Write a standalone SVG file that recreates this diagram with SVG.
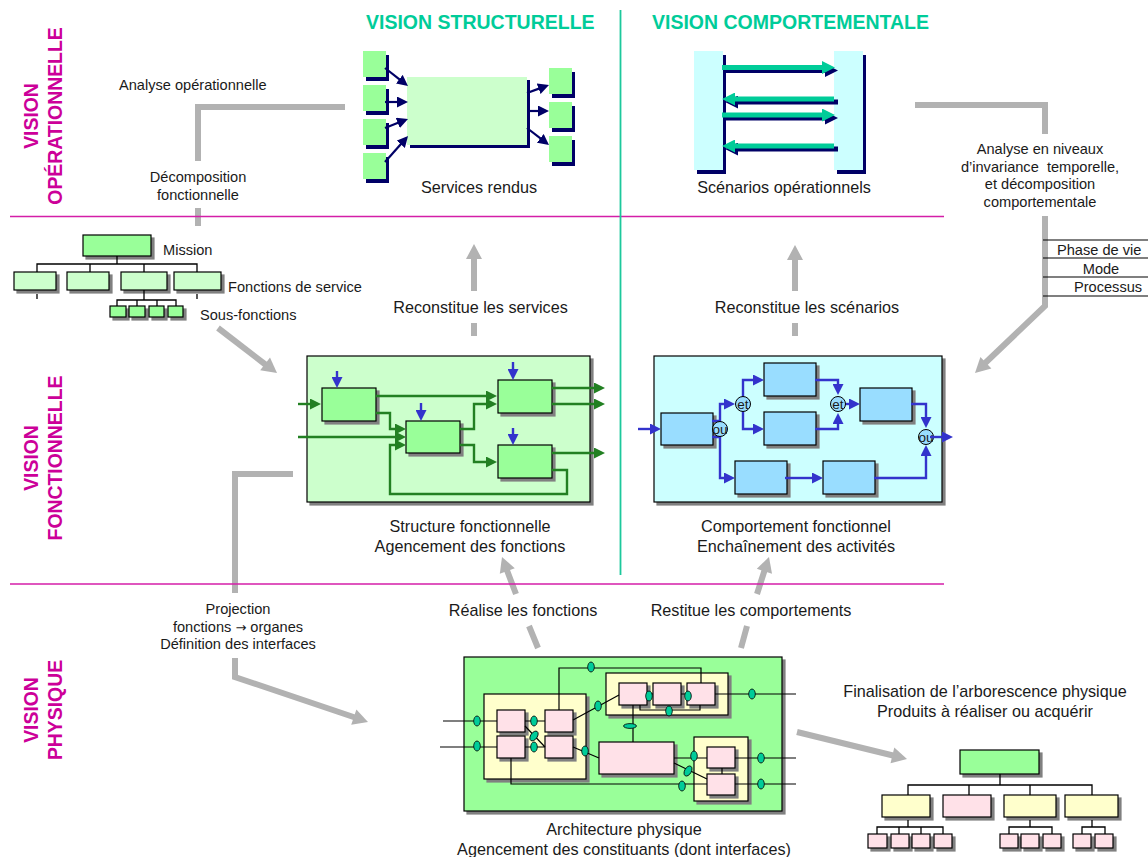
<svg xmlns="http://www.w3.org/2000/svg" width="1148" height="857" viewBox="0 0 1148 857">
<style>
text{font-family:"Liberation Sans",Arial,sans-serif;fill:#1a1a1a;font-size:14.6px}
.c{text-anchor:middle}
.lg{font-size:16.2px}
.ti{font-size:19.5px;font-weight:bold;fill:#00cc99}
.vi{font-size:19.4px;font-weight:bold;fill:#cc0099;text-anchor:middle}
.op{font-size:13.5px;text-anchor:middle}
rect.b{stroke:#000;stroke-width:1.2;filter:drop-shadow(3px 3px 0 #808080)}
rect.n{filter:drop-shadow(3px 4px 0 #000066)}
.g1{fill:#99ff99}.g2{fill:#ccffcc}.pk{fill:#ffe1e8}.yl{fill:#ffffcc}.bl{fill:#99ddff}.cy{fill:#ccffff}
.gr,.k,.tr,.gn,.bu,.nv,.te,.ts{fill:none}
.gr{stroke:#b2b2b2;stroke-width:6;stroke-linejoin:miter}
.gh{fill:#b2b2b2;stroke:none}
.sep{stroke:#d41ea8;stroke-width:1.6}
.sepv{stroke:#1cc89c;stroke-width:1.8}
.k{stroke:#000;stroke-width:1.2}
.tr{stroke:#000;stroke-width:1.3}
.nv{stroke:#000066;stroke-width:2.2;marker-end:url(#mn)}
.te{stroke:#00cc99;stroke-width:5;marker-end:url(#mt)}
.ts{stroke:#000066;stroke-width:5;marker-end:url(#ms)}
.gn{stroke:#228022;stroke-width:2.4}
.ga{marker-end:url(#mg)}
.bu{stroke:#3333cc;stroke-width:2.4}
.ba{marker-end:url(#mb)}
.if{fill:#00cc99;stroke:#000;stroke-width:.8}
.cr{fill:#99ddff;stroke:#000;stroke-width:1}
</style>
<defs>
<marker id="mg" markerUnits="userSpaceOnUse" markerWidth="11" markerHeight="11" viewBox="0 0 11 11" refX="1" refY="5.5" orient="auto"><path d="M0 0L11 5.5L0 11Z" fill="#228022"/></marker>
<marker id="mb" markerUnits="userSpaceOnUse" markerWidth="11" markerHeight="11" viewBox="0 0 11 11" refX="1" refY="5.5" orient="auto"><path d="M0 0L11 5.5L0 11Z" fill="#3333cc"/></marker>
<marker id="mn" markerUnits="userSpaceOnUse" markerWidth="11" markerHeight="11" viewBox="0 0 11 11" refX="1" refY="5.5" orient="auto"><path d="M0 0L11 5.5L0 11Z" fill="#000066"/></marker>
<marker id="mt" markerUnits="userSpaceOnUse" markerWidth="13" markerHeight="13" viewBox="0 0 13 13" refX="1" refY="6.5" orient="auto"><path d="M0 0L13 6.5L0 13Z" fill="#00cc99"/></marker>
<marker id="ms" markerUnits="userSpaceOnUse" markerWidth="13" markerHeight="13" viewBox="0 0 13 13" refX="1" refY="6.5" orient="auto"><path d="M0 0L13 6.5L0 13Z" fill="#000066"/></marker>
</defs>

<g id="titles">
<text class="ti" x="366" y="29">VISION STRUCTURELLE</text>
<text class="ti" x="652" y="29">VISION COMPORTEMENTALE</text>
<text class="vi" transform="translate(38,116) rotate(-90)">VISION</text>
<text class="vi" transform="translate(62,116) rotate(-90)">OPÉRATIONNELLE</text>
<text class="vi" transform="translate(38,458) rotate(-90)">VISION</text>
<text class="vi" transform="translate(62,458) rotate(-90)">FONCTIONNELLE</text>
<text class="vi" transform="translate(38,710) rotate(-90)">VISION</text>
<text class="vi" transform="translate(62,710) rotate(-90)">PHYSIQUE</text>
</g>

<!-- services rendus -->
<g id="service-in-1"><rect class="n g1" x="363" y="51" width="23" height="26"/></g>
<g id="service-in-2"><rect class="n g1" x="363" y="85" width="23" height="26"/></g>
<g id="service-in-3"><rect class="n g1" x="363" y="119" width="23" height="26"/></g>
<g id="service-in-4"><rect class="n g1" x="363" y="153" width="23" height="26"/></g>
<g id="service-system"><rect class="g2" x="407" y="77" width="120" height="68" style="filter:drop-shadow(3px 3.5px 0 #000066)"/><text class="c lg" x="479" y="193">Services rendus</text></g>
<g id="service-out-1"><rect class="n g1" x="549" y="68" width="23" height="26"/></g>
<g id="service-out-2"><rect class="n g1" x="549" y="102" width="23" height="26"/></g>
<g id="service-out-3"><rect class="n g1" x="549" y="136" width="23" height="26"/></g>

<!-- scenarios -->
<g id="actor-left"><rect class="n cy" x="694" y="51" width="29" height="119"/></g>
<g id="actor-right"><rect class="n cy" x="834" y="51" width="29" height="119"/><text class="c lg" x="784" y="193">Scénarios opérationnels</text></g>

<!-- mission tree -->
<g id="mission"><rect class="b g1" x="83" y="235" width="68" height="21"/><text x="163" y="255">Mission</text></g>
<g id="fs-1"><rect class="b g2" x="14" y="272" width="42" height="18"/></g>
<g id="fs-2"><rect class="b g2" x="67" y="272" width="42" height="18"/></g>
<g id="fs-3"><rect class="b g2" x="121" y="272" width="46" height="18"/></g>
<g id="fs-4"><rect class="b g2" x="174" y="272" width="47" height="18"/><text x="228" y="292">Fonctions de service</text></g>
<g id="sf-1"><rect class="b g1" x="110" y="306" width="16" height="11"/></g>
<g id="sf-2"><rect class="b g1" x="129" y="306" width="16" height="11"/></g>
<g id="sf-3"><rect class="b g1" x="149" y="306" width="15" height="11"/></g>
<g id="sf-4"><rect class="b g1" x="168" y="306" width="15" height="11"/><text x="200" y="320">Sous-fonctions</text></g>

<!-- structure fonctionnelle -->
<g id="structure"><rect class="b g2" x="307" y="356" width="283" height="146"/><text class="c lg" x="470" y="532">Structure fonctionnelle</text><text class="c lg" x="470" y="552">Agencement des fonctions</text></g>
<g id="fn-a"><rect class="b g1" x="322" y="388" width="54" height="33"/></g>
<g id="fn-b"><rect class="b g1" x="406" y="421" width="54" height="32"/></g>
<g id="fn-c"><rect class="b g1" x="498" y="380" width="54" height="33"/></g>
<g id="fn-d"><rect class="b g1" x="498" y="445" width="54" height="33"/></g>

<!-- comportement fonctionnel -->
<g id="comportement"><rect class="b cy" x="654" y="356" width="288" height="146"/><text class="c lg" x="796" y="532">Comportement fonctionnel</text><text class="c lg" x="796" y="552">Enchaînement des activités</text></g>
<g id="act-1"><rect class="b bl" x="661" y="413" width="52" height="32"/></g>
<g id="act-2"><rect class="b bl" x="764" y="363" width="52" height="33"/></g>
<g id="act-3"><rect class="b bl" x="764" y="412" width="52" height="33"/></g>
<g id="act-4"><rect class="b bl" x="860" y="388" width="52" height="33"/></g>
<g id="act-5"><rect class="b bl" x="735" y="461" width="52" height="33"/></g>
<g id="act-6"><rect class="b bl" x="823" y="461" width="52" height="33"/></g>

<!-- architecture physique -->
<g id="architecture"><rect class="b g1" x="464" y="657" width="318" height="154"/><text class="c lg" x="624" y="835">Architecture physique</text><text class="c lg" x="624" y="855">Agencement des constituants (dont interfaces)</text></g>
<g id="sub-1"><rect class="b yl" x="484" y="694" width="102" height="85"/></g>
<g id="sub-2"><rect class="b yl" x="606" y="673" width="122" height="42"/></g>
<g id="sub-3"><rect class="b yl" x="694" y="737" width="54" height="64"/></g>
<g id="p1"><rect class="b pk" x="497" y="710" width="28" height="22"/></g>
<g id="p2"><rect class="b pk" x="497" y="736" width="28" height="22"/></g>
<g id="p3"><rect class="b pk" x="545" y="710" width="28" height="22"/></g>
<g id="p4"><rect class="b pk" x="545" y="736" width="28" height="22"/></g>
<g id="p5"><rect class="b pk" x="619" y="683" width="28" height="22"/></g>
<g id="p6"><rect class="b pk" x="653" y="683" width="28" height="22"/></g>
<g id="p7"><rect class="b pk" x="687" y="683" width="28" height="22"/></g>
<g id="p8"><rect class="b pk" x="599" y="742" width="75" height="32"/></g>
<g id="p9"><rect class="b pk" x="707" y="747" width="28" height="21"/></g>
<g id="p10"><rect class="b pk" x="707" y="774" width="28" height="21"/></g>

<!-- product tree -->
<g id="pt-root"><rect class="b g1" x="960" y="750" width="79" height="24"/></g>
<g id="pt-1"><rect class="b yl" x="882" y="795" width="48" height="22"/></g>
<g id="pt-2"><rect class="b pk" x="943" y="795" width="48" height="22"/></g>
<g id="pt-3"><rect class="b yl" x="1004" y="795" width="52" height="22"/></g>
<g id="pt-4"><rect class="b yl" x="1065" y="795" width="53" height="22"/></g>
<g id="pt-1-1"><rect class="b pk" x="868" y="834" width="19" height="14"/></g>
<g id="pt-1-2"><rect class="b pk" x="891" y="834" width="18" height="14"/></g>
<g id="pt-1-3"><rect class="b pk" x="912" y="834" width="18" height="14"/></g>
<g id="pt-1-4"><rect class="b pk" x="934" y="834" width="18" height="14"/></g>
<g id="pt-3-1"><rect class="b pk" x="1000" y="834" width="18" height="14"/></g>
<g id="pt-3-2"><rect class="b pk" x="1021" y="834" width="18" height="14"/></g>
<g id="pt-3-3"><rect class="b pk" x="1043" y="834" width="18" height="14"/></g>
<g id="pt-4-1"><rect class="b pk" x="1073" y="834" width="18" height="14"/></g>
<g id="pt-4-2"><rect class="b pk" x="1095" y="834" width="18" height="14"/></g>

<g id="connectors">
<!-- gray process flows -->
<path class="gr" d="M345 107H198V161M198 208V226"/>
<path class="gr" d="M915 105H1045V134M1045 216V306L981 367"/>
<polygon class="gh" points="975,373 980.4,356.9 991.4,368.5"/>
<line class="gr" x1="218" y1="328" x2="266" y2="365"/>
<polygon class="gh" points="277,373 260.2,370.3 270,357.5"/>
<path class="gr" d="M474 336V323M474 291V258"/>
<polygon class="gh" points="474,244 482,259 466,259"/>
<path class="gr" d="M795 336V323M795 291V259"/>
<polygon class="gh" points="795,245 803,260 787,260"/>
<path class="gr" d="M293 474H235V593M235 658V677L355 717.5"/>
<polygon class="gh" points="368,722 351.2,724.8 356.4,709.6"/>
<path class="gr" d="M538 648L529 626M516 594L506.5 569"/>
<polygon class="gh" points="502,557 514.8,568.2 499.8,573.8"/>
<path class="gr" d="M741 648L747 626M757 594L765 569"/>
<polygon class="gh" points="769,557 772,573.8 756.8,568.8"/>
<line class="gr" x1="797" y1="732" x2="893" y2="755.5"/>
<polygon class="gh" points="907,759 890.5,763.2 894.3,747.6"/>
<!-- phase lines -->
<path class="k" d="M1043 240H1148M1043 258H1148M1043 277H1148M1043 296H1148"/>
<!-- services -->
<line class="nv" x1="385" y1="68" x2="400.1" y2="79.8"/>
<line class="nv" x1="385" y1="102" x2="398" y2="102"/>
<line class="nv" x1="385" y1="128" x2="398.7" y2="122.6"/>
<line class="nv" x1="385" y1="162" x2="401.4" y2="143.5"/>
<line class="nv" x1="527" y1="93" x2="539.6" y2="88.4"/>
<line class="nv" x1="527" y1="111" x2="539" y2="111"/>
<line class="nv" x1="527" y1="128" x2="541.1" y2="138.9"/>
<!-- scenarios -->
<line class="ts" x1="725" y1="70.5" x2="826" y2="70.5"/>
<line class="te" x1="722" y1="67.5" x2="823" y2="67.5"/>
<line class="ts" x1="838" y1="102" x2="737" y2="102"/>
<line class="te" x1="834" y1="99" x2="734" y2="99"/>
<line class="ts" x1="725" y1="118" x2="826" y2="118"/>
<line class="te" x1="722" y1="115" x2="823" y2="115"/>
<line class="ts" x1="838" y1="149" x2="737" y2="149"/>
<line class="te" x1="834" y1="146" x2="734" y2="146"/>
<!-- mission tree -->
<path class="tr" d="M117 256V264M37 272V264H197V272M90 264V272M144 264V272M37 294V299M197 294V299M144 290V300M117 306V300H176V306M137 300V306M157 300V306"/>
<!-- structure flows -->
<path class="gn ga" d="M298 404H311"/>
<path class="gn ga" d="M298 437H396"/>
<path class="gn ga" d="M376 396H487"/>
<path class="gn ga" d="M376 413H390V429H396"/>
<path class="gn ga" d="M460 429H474V404H487"/>
<path class="gn ga" d="M460 445H474V462H487"/>
<path class="gn ga" d="M552 388H595"/>
<path class="gn ga" d="M552 404H595"/>
<path class="gn ga" d="M552 453H595"/>
<path class="gn ga" d="M552 470H567V494H390V445H396"/>
<path class="bu ba" d="M337 371V378"/>
<path class="bu ba" d="M421 403V411"/>
<path class="bu ba" d="M513 362V370"/>
<path class="bu ba" d="M513 428V435"/>
<!-- behaviour flows -->
<path class="bu ba" d="M638 429H651"/>
<path class="bu ba" d="M712 421H720V404H725"/>
<path class="bu ba" d="M743 404V380H754"/>
<path class="bu ba" d="M743 404V429H754"/>
<path class="bu ba" d="M815 380H838V385"/>
<path class="bu ba" d="M815 429H838V423"/>
<path class="bu ba" d="M838 404H850"/>
<path class="bu ba" d="M911 404H926V418"/>
<path class="bu ba" d="M712 437H720V478H725"/>
<path class="bu ba" d="M785 478H813"/>
<path class="bu ba" d="M874 478H926V455"/>
<!-- architecture links -->
<path class="k" d="M443 721H497M440 747H497M525 721H545M525 747H545M525 726L545 747M559 710V668H701V683M573 720L619 695M573 747L599 758M647 694H653M681 694H687M715 694H796M640 705V710H700V705M633 705V742M674 758H707M674 763L707 779M722 768V774M735 758H796M735 784H796M511 758V784H707"/>
<!-- product tree -->
<path class="tr" d="M1000 774V785M908 795V785H1092V795M969 785V795M1030 785V795M908 820V827M877 834V827H943V834M899 827V834M921 827V834M1030 820V827M1009 834V827H1052V834M1092 820V827M1082 834V827H1105V834"/>
</g>

<g id="separators">
<line class="sep" x1="10" y1="216.5" x2="944" y2="216.5"/>
<line class="sep" x1="10" y1="584" x2="944" y2="584"/>
<line class="sepv" x1="620.5" y1="10" x2="620.5" y2="575"/>
</g>

<g id="gate-ou-1"><circle class="cr" cx="720" cy="429" r="7.5"/><text class="op" x="720" y="434">ou</text></g>
<g id="gate-et-1"><circle class="cr" cx="743" cy="404" r="7.5"/><text class="op" x="743" y="409">et</text></g>
<g id="gate-et-2"><circle class="cr" cx="838" cy="404" r="7.5"/><text class="op" x="838" y="409">et</text></g>
<g id="gate-ou-2"><circle class="cr" cx="926" cy="437" r="7.5"/><text class="op" x="926" y="442">ou</text></g>
<g id="gate-out"><path class="bu ba" d="M930 437H943"/></g>

<g id="interfaces">
<ellipse class="if" cx="477" cy="721" rx="3.3" ry="5"/>
<ellipse class="if" cx="477" cy="746" rx="3.3" ry="5"/>
<ellipse class="if" cx="534" cy="721" rx="3.3" ry="5"/>
<ellipse class="if" cx="534" cy="747" rx="3.3" ry="5"/>
<ellipse class="if" cx="534" cy="736" rx="3.3" ry="5.5" transform="rotate(35 534 736)"/>
<ellipse class="if" cx="591" cy="667" rx="3.3" ry="5"/>
<ellipse class="if" cx="598" cy="706" rx="3.3" ry="5"/>
<ellipse class="if" cx="585" cy="751" rx="3.3" ry="5"/>
<ellipse class="if" cx="649" cy="696" rx="3.3" ry="5"/>
<ellipse class="if" cx="688" cy="696" rx="3.3" ry="5"/>
<ellipse class="if" cx="669" cy="711" rx="3.3" ry="5"/>
<ellipse class="if" cx="752" cy="694" rx="3.3" ry="5"/>
<ellipse class="if" cx="630" cy="726" rx="6.5" ry="2.4"/>
<ellipse class="if" cx="694" cy="756" rx="3.3" ry="5"/>
<ellipse class="if" cx="688" cy="771" rx="3.3" ry="5.5" transform="rotate(30 688 771)"/>
<ellipse class="if" cx="761" cy="758" rx="3.3" ry="5"/>
<ellipse class="if" cx="761" cy="784" rx="3.3" ry="5"/>
<ellipse class="if" cx="682" cy="786" rx="3.3" ry="5"/>
</g>

<g id="labels">
<text x="119" y="90">Analyse opérationnelle</text>
<text class="c" x="198" y="182">Décomposition</text>
<text class="c" x="198" y="200">fonctionnelle</text>
<text class="c" x="1040" y="153.5">Analyse en niveaux</text>
<text class="c" x="1040" y="171.5" xml:space="preserve">d’invariance  temporelle,</text>
<text class="c" x="1040" y="189">et décomposition</text>
<text class="c" x="1040" y="207">comportementale</text>
<text x="1057" y="255">Phase de vie</text>
<text class="c" x="1101" y="274">Mode</text>
<text x="1074" y="292">Processus</text>
<text class="c lg" x="480.5" y="313">Reconstitue les services</text>
<text class="c lg" x="807" y="313">Reconstitue les scénarios</text>
<text class="c" x="238" y="614">Projection</text>
<text class="c" x="238" y="632">fonctions <tspan style="font-family:'DejaVu Sans',sans-serif;font-size:13px">→</tspan> organes</text>
<text class="c" x="238" y="649">Définition des interfaces</text>
<text class="c lg" x="523" y="616">Réalise les fonctions</text>
<text class="c lg" x="751" y="616">Restitue les comportements</text>
<text class="c lg" x="985" y="697">Finalisation de l’arborescence physique</text>
<text class="c lg" x="985" y="717">Produits à réaliser ou acquérir</text>
</g>
</svg>
